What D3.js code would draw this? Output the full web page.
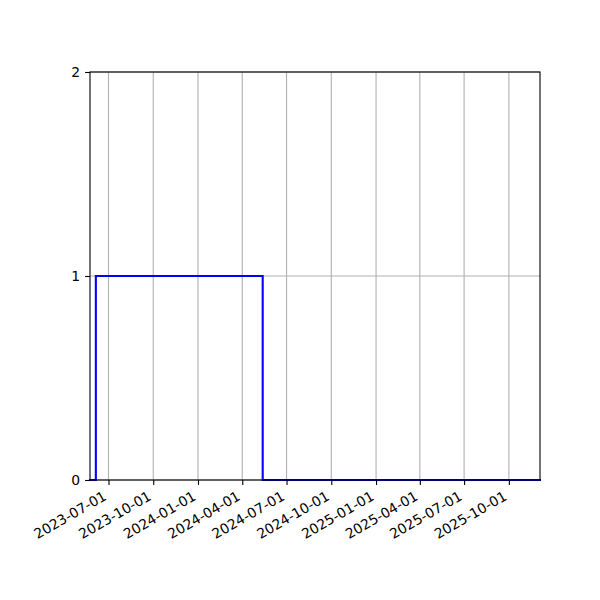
<!DOCTYPE html>
<html>
<head>
<meta charset="utf-8">
<script src="https://cdn.jsdelivr.net/npm/d3@7"></script>
<style>
html,body{margin:0;padding:0;background:#fff;}
svg{display:block;font-family:"DejaVu Sans",sans-serif;}
</style>
</head>
<body>
<svg id="chart" width="600" height="600"></svg>
<script>
// Data
const stepDates = ["2023-05-24", "2023-06-05", "2024-05-13", "2025-12-04"];
const stepValues = [0, 1, 0, 0];
const xTickLabels = ["2023-07-01","2023-10-01","2024-01-01","2024-04-01","2024-07-01","2024-10-01","2025-01-01","2025-04-01","2025-07-01","2025-10-01"];
const yTickValues = [0, 1, 2];
const xDomain = ["2023-05-24", "2025-12-04"];

const parse = d3.utcParse("%Y-%m-%d");
const svg = d3.select("#chart");
const L = 90, R = 540, T = 72, B = 480;
const fs = 13.9;

const x = d3.scaleUtc().domain(xDomain.map(parse)).range([L, R]);
const y = d3.scaleLinear().domain([0, 2]).range([B, T]);

// Grid
const gridG = svg.append("g");
xTickLabels.forEach(t => {
  gridG.append("line").attr("x1", x(parse(t))).attr("x2", x(parse(t)))
    .attr("y1", T).attr("y2", B).attr("stroke", "#b0b0b0").attr("stroke-width", 1.1);
});
yTickValues.forEach(v => {
  gridG.append("line").attr("x1", L).attr("x2", R).attr("y1", y(v)).attr("y2", y(v))
    .attr("stroke", "#b0b0b0").attr("stroke-width", 1.1);
});

// Step line
const data = stepDates.map((d, i) => ({ d: parse(d), v: stepValues[i] }));
const line = d3.line().x(p => x(p.d)).y(p => y(p.v)).curve(d3.curveStepAfter);
svg.append("path").datum(data).attr("d", line)
  .attr("fill", "none").attr("stroke", "#0000ff").attr("stroke-width", 2.1)
  .attr("stroke-linejoin", "miter").attr("stroke-linecap", "square");

// Axes
const xAxis = d3.axisBottom(x).tickValues(xTickLabels.map(parse))
  .tickFormat(d3.utcFormat("%Y-%m-%d")).tickSizeInner(4.9).tickSizeOuter(0).tickPadding(4.9);
const gx = svg.append("g").attr("transform", `translate(0,${B})`).call(xAxis);
gx.select(".domain").remove();
gx.selectAll(".tick line").attr("stroke", "#000").attr("stroke-width", 1.1);
gx.selectAll(".tick text").each(function() {
  const t = d3.select(this);
  t.attr("y", null).attr("dy", null).attr("x", null)
   .attr("text-anchor", "end")
   .attr("transform", "translate(-1.5,19) rotate(-30)")
   .attr("font-size", fs).attr("font-family", "DejaVu Sans").attr("fill", "#000");
});

const yAxis = d3.axisLeft(y).tickValues(yTickValues).tickFormat(d3.format("d"))
  .tickSizeInner(4.9).tickSizeOuter(0).tickPadding(4.9);
const gy = svg.append("g").attr("transform", `translate(${L},0)`).call(yAxis);
gy.select(".domain").remove();
gy.selectAll(".tick line").attr("stroke", "#000").attr("stroke-width", 1.1);
gy.selectAll(".tick text").attr("font-size", fs).attr("font-family", "DejaVu Sans").attr("fill", "#000");

// Spines
svg.append("rect").attr("x", L).attr("y", T).attr("width", R - L).attr("height", B - T)
  .attr("fill", "none").attr("stroke", "#000").attr("stroke-width", 1.1);
</script>
</body>
</html>
